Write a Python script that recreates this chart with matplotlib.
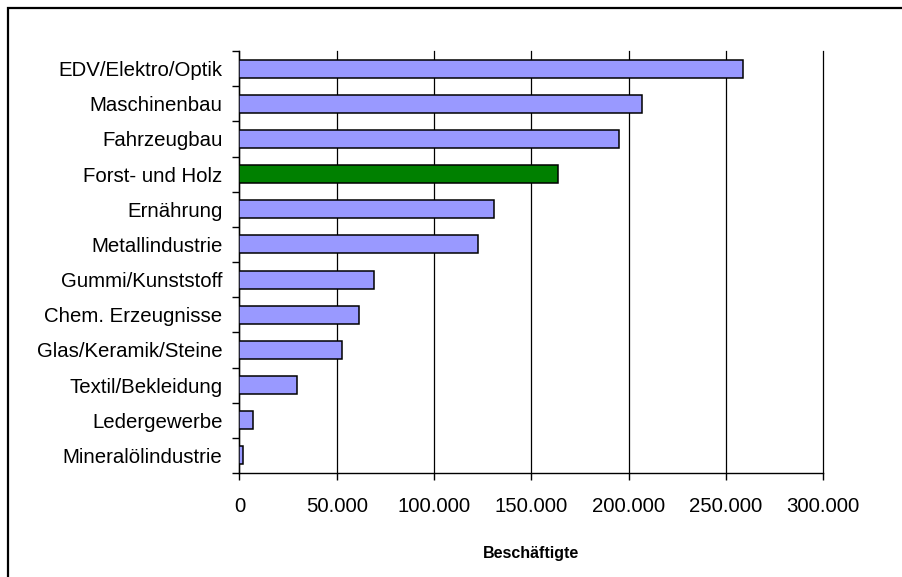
import matplotlib
matplotlib.use("Agg")
import matplotlib.pyplot as plt
from matplotlib.ticker import FuncFormatter, FixedLocator
from matplotlib.patches import Rectangle

categories = ["EDV/Elektro/Optik", "Maschinenbau", "Fahrzeugbau", "Forst- und Holz",
              "Ernährung", "Metallindustrie", "Gummi/Kunststoff", "Chem. Erzeugnisse",
              "Glas/Keramik/Steine", "Textil/Bekleidung", "Ledergewerbe", "Mineralölindustrie"]
values = [259000, 206700, 195200, 164000, 131100, 122500, 69400, 61300, 52700, 29500, 7000, 1900]
highlight = "Forst- und Holz"
x_ticks = [0, 50000, 100000, 150000, 200000, 250000, 300000]
x_label = "Beschäftigte"

plt.rcParams['font.family'] = ['Liberation Sans', 'DejaVu Sans']

fig = plt.figure(figsize=(9.02, 5.77), dpi=100)
ax = fig.add_axes([239.5/902, 1-473/577, (823-239.5)/902, (473-51)/577])

colors = ["#008000" if c == highlight else "#9999FF" for c in categories]
ypos = list(range(len(categories)))
ax.barh(ypos, values, height=0.51, color=colors, edgecolor="black", linewidth=1.1, zorder=3)

ax.set_xlim(0, 300000)
ax.set_ylim(len(categories)-0.5, -0.5)
ax.set_xticks(x_ticks)
ax.xaxis.set_major_formatter(FuncFormatter(lambda v, p: f"{int(v):,}".replace(",", ".")))
ax.set_yticks(ypos)
ax.set_yticklabels(categories)
ax.yaxis.set_minor_locator(FixedLocator([i - 0.5 for i in range(len(categories)+1)]))
ax.tick_params(axis='y', which='major', length=0, pad=12.2, labelsize=14.7)
ax.tick_params(axis='y', which='minor', length=5, width=1, color="black")
ax.tick_params(axis='x', which='major', length=5, width=1, pad=12, labelsize=14.7)

ax.grid(axis='x', color="black", linewidth=0.9, zorder=0)
for gl in ax.get_xgridlines():
    gl.set_clip_on(False)
for s in ["top", "right"]:
    ax.spines[s].set_visible(False)
for s in ["left", "bottom"]:
    ax.spines[s].set_linewidth(1.0)

ax.set_xlabel(x_label, fontsize=11.5, fontweight="bold", labelpad=22)

fig.patches.append(Rectangle((8/902, -0.1), 1.2, (577-8)/577 + 0.1, transform=fig.transFigure,
                             fill=False, edgecolor="black", linewidth=1.6))

fig.savefig("out.png", dpi=100)
